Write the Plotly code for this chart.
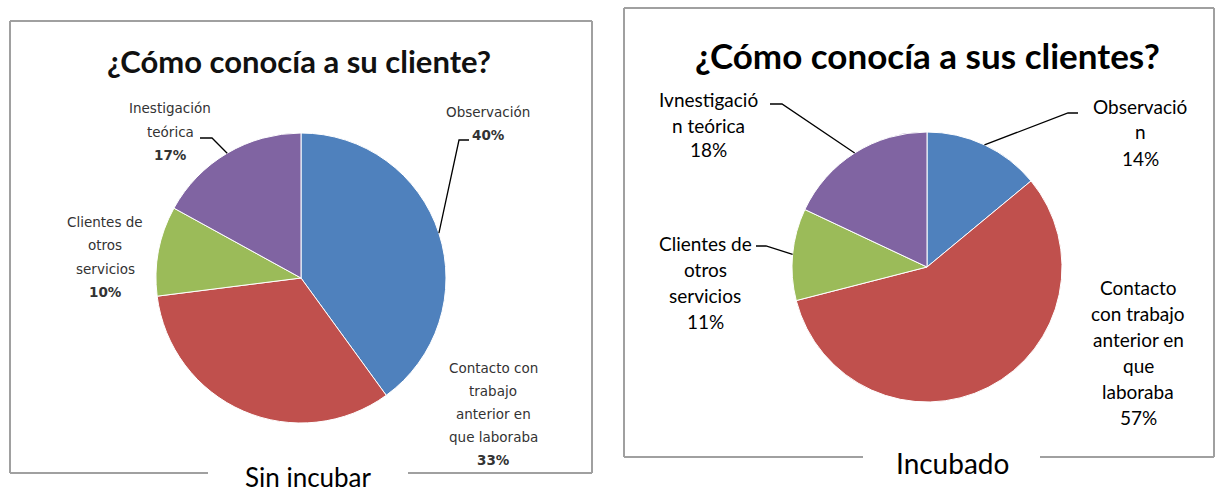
import plotly.graph_objects as go
import math

# ---------------- data ----------------
categories_left = ["Observación", "Contacto con trabajo anterior en que laboraba",
                   "Clientes de otros servicios", "Inestigación teórica"]
values_left = [40, 33, 10, 17]
title_left = "¿Cómo conocía a su cliente?"
caption_left = "Sin incubar"

categories_right = ["Observación", "Contacto con trabajo anterior en que laboraba",
                    "Clientes de otros servicios", "Ivnestigación teórica"]
values_right = [14, 57, 11, 18]
title_right = "¿Cómo conocía a sus clientes?"
caption_right = "Incubado"

label_lines_left = [
    ["Observación", "40%"],
    ["Contacto con", "trabajo", "anterior en", "que laboraba", "33%"],
    ["Clientes de", "otros", "servicios", "10%"],
    ["Inestigación", "teórica", "17%"],
]
label_lines_right = [
    ["Observació", "n", "14%"],
    ["Contacto", "con trabajo", "anterior en", "que", "laboraba", "57%"],
    ["Clientes de", "otros", "servicios", "11%"],
    ["Ivnestigació", "n teórica", "18%"],
]
colors = ["#4F81BD", "#C0504D", "#9BBB59", "#8064A2"]

# ---------------- layout helpers ----------------
W, H = 1217, 495
def px(x): return x / W
def py(y): return 1 - y / H

fig = go.Figure()

def add_pie(values, labels, cx, cy, r):
    fig.add_trace(go.Pie(
        values=values, labels=labels, sort=False, direction="clockwise",
        rotation=0, textinfo="none", hoverinfo="label+percent",
        marker=dict(colors=colors, line=dict(color="white", width=1)),
        domain=dict(x=[px(cx - r), px(cx + r)], y=[py(cy + r), py(cy - r)]),
        showlegend=False,
    ))

def slice_tip(values, idx, cx, cy, r):
    tot = sum(values)
    start = sum(values[:idx]) / tot
    mid = (start + values[idx] / tot / 2) * 2 * math.pi
    return cx + r * math.sin(mid), cy - r * math.cos(mid)

annotations = []
shapes = []

def text(t, x, y, font, pad=1):
    annotations.append(dict(text=t, x=px(x), y=py(y), xref="paper", yref="paper",
                            showarrow=False, font=font, xanchor="center", yanchor="middle",
                            borderpad=pad))

def add_lines(lines, cx, y0, dy, font, bold_last):
    for i, t in enumerate(lines):
        txt = f"<b>{t}</b>" if (bold_last and i == len(lines) - 1) else t
        text(txt, cx, y0 + i * dy, font)

def leader(p_start, p_knee, p_tip):
    path = f"M {px(p_start[0])} {py(p_start[1])} L {px(p_knee[0])} {py(p_knee[1])} L {px(p_tip[0])} {py(p_tip[1])}"
    shapes.append(dict(type="path", path=path, xref="paper", yref="paper",
                       line=dict(color="black", width=1.3)))

def box(x0, y0, x1, y1, gap0, gap1):
    segs = [((x0, y0), (x1, y0)), ((x0, y0), (x0, y1)), ((x1, y0), (x1, y1)),
            ((x0, y1), (gap0, y1)), ((gap1, y1), (x1, y1))]
    for (a, b) in segs:
        shapes.append(dict(type="line", xref="paper", yref="paper",
                           x0=px(a[0]), y0=py(a[1]), x1=px(b[0]), y1=py(b[1]),
                           line=dict(color="#A0A0A0", width=2)))

# ---------------- left chart ----------------
box(10, 21, 592, 473, 208, 408)
LC = (301, 278); LR = 145
add_pie(values_left, categories_left, LC[0], LC[1], LR)
text(f"<b>{title_left}</b>", 299, 61, dict(family="Lato", size=31, color="#111111"))
text(caption_left, 308, 477, dict(family="Lato", size=26, color="black"), pad=0)
fl = dict(family="DejaVu Sans", size=13.5, color="#333333")
add_lines(label_lines_left[0], 488, 112, 23, fl, True)
add_lines(label_lines_left[1], 493, 368, 23, fl, True)
add_lines(label_lines_left[2], 105, 222, 23.3, fl, True)
add_lines(label_lines_left[3], 170, 108, 23.5, fl, True)
leader((469, 140), (459, 140), slice_tip(values_left, 0, LC[0], LC[1], LR))
leader((200, 138), (212, 138), slice_tip(values_left, 3, LC[0], LC[1], LR))

# ---------------- right chart ----------------
box(624, 8, 1214, 457, 863, 1040)
RC = (927, 267); RR = 135
add_pie(values_right, categories_right, RC[0], RC[1], RR)
text(f"<b>{title_right}</b>", 927, 55, dict(family="Lato", size=35, color="black"))
text(caption_right, 952, 463, dict(family="Lato", size=28, color="black"))
fr = dict(family="Lato", size=19, color="black")
add_lines(label_lines_right[0], 1140, 106, 26, fr, False)
add_lines(label_lines_right[1], 1138, 287, 26, fr, False)
add_lines(label_lines_right[2], 705, 243, 26, fr, False)
add_lines(label_lines_right[3], 708, 100, 25, fr, False)
leader((1078, 113), (1068, 113), slice_tip(values_right, 0, RC[0], RC[1], RR))
leader((770, 104), (782, 104), slice_tip(values_right, 3, RC[0], RC[1], RR))
leader((756, 246), (766, 246), slice_tip(values_right, 2, RC[0], RC[1], RR))

fig.update_layout(
    width=W, height=H, margin=dict(l=0, r=0, t=0, b=0),
    paper_bgcolor="white", plot_bgcolor="white",
    annotations=annotations, shapes=shapes,
)
fig.write_html("out.html", config={"displayModeBar": False},
               post_script="document.body.style.margin='0';document.body.style.overflow='hidden';")
